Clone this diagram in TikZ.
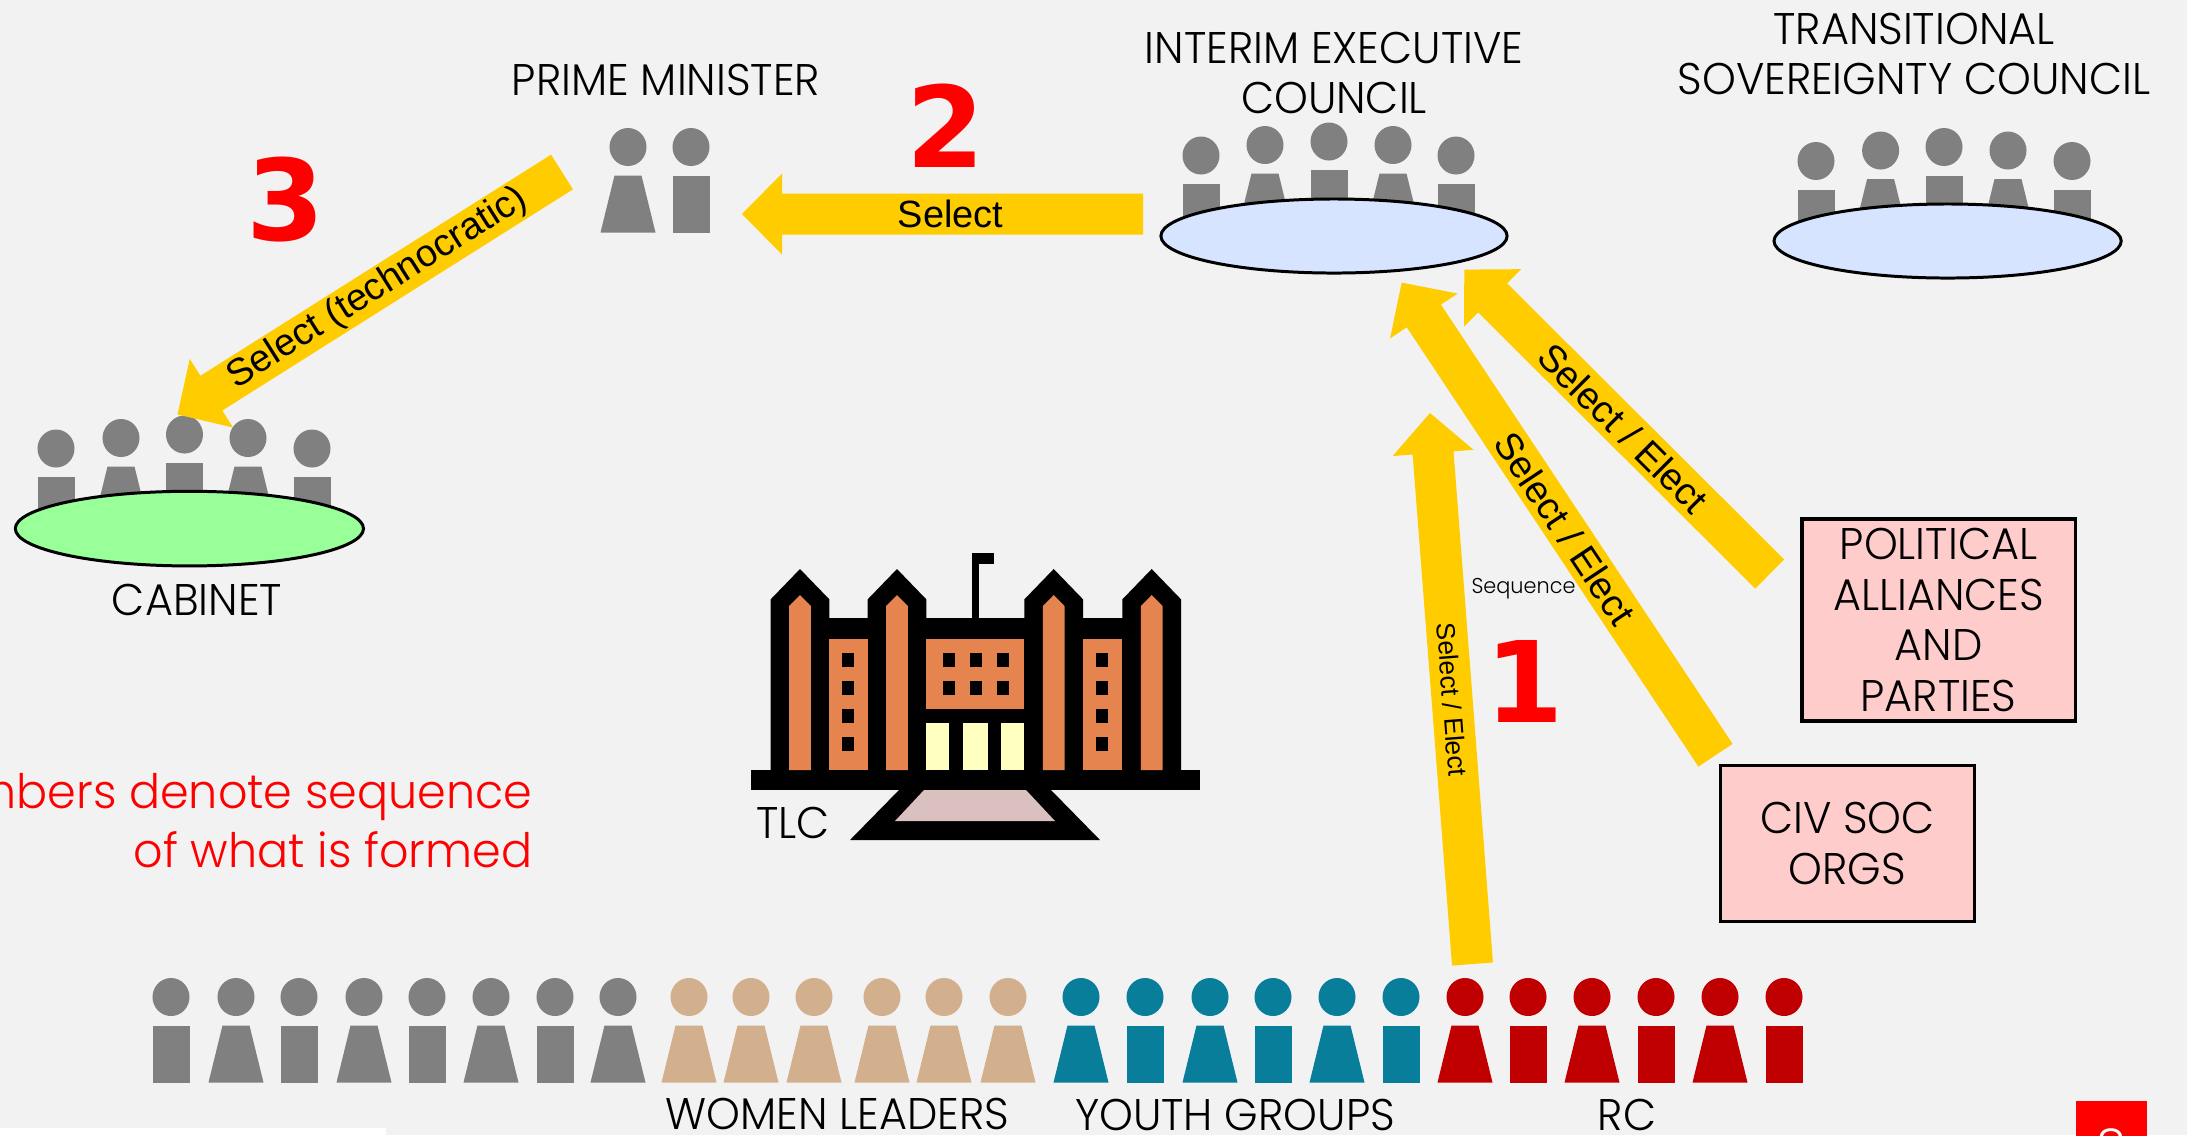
\documentclass[tikz,border=0pt]{standalone}
\usepackage{fontspec}
\usepackage{tikz}
\usetikzlibrary{calc,positioning,shapes.geometric}

\newfontfamily\gothic[FakeStretch=0.97]{Poppins Light}
\newfontfamily\arial{Liberation Sans}
\newfontfamily\digits{DejaVu Sans}

\definecolor{slidebg}{HTML}{F2F2F2}
\definecolor{figgray}{HTML}{808080}
\definecolor{figtan}{HTML}{D2B08E}
\definecolor{figteal}{HTML}{087E9B}
\definecolor{figred}{HTML}{C00000}
\definecolor{flowyellow}{HTML}{FFCC00}
\definecolor{cabgreen}{HTML}{99FF99}
\definecolor{councilblue}{HTML}{D6E4FF}
\definecolor{orgpink}{HTML}{FFCCCC}
\definecolor{brick}{HTML}{E6844F}
\definecolor{doorlight}{HTML}{FFFFC0}
\definecolor{steppink}{HTML}{DBC0C0}

\tikzset{
  lbl/.style={font=\gothic\fontsize{12.6}{14.4}\selectfont, align=center, inner sep=0pt},
  flowtext/.style={font=\arial\fontsize{10.8}{13}\selectfont, inner sep=0pt},
  stepnum/.style={font=\digits\bfseries\fontsize{32}{36}\selectfont, text=red, inner sep=0pt},
  seqnote/.style={font=\gothic\fontsize{13.5}{17}\selectfont, text=red, align=right, inner sep=0pt},
  orgbox/.style={lbl, draw, line width=0.9pt, fill=orgpink},
  roundtable/.style={ellipse, draw, line width=0.85pt, inner sep=0pt},
  flow/.style={fill=flowyellow},
}

% one member: head and straight body / flared body
\newcommand{\pawnrect}[3]{%
  \fill[#3] (#1,#2) ellipse [x radius=0.185cm, y radius=0.19cm];
  \fill[#3] (#1-18.5,#2+28.5) rectangle (#1+18.5,#2+85.5);}
\newcommand{\pawntrap}[3]{%
  \fill[#3] (#1,#2) ellipse [x radius=0.185cm, y radius=0.19cm];
  \fill[#3] (#1-13.5,#2+28.5) -- (#1+13.5,#2+28.5) -- (#1+27.5,#2+85.5)
    -- (#1-27.5,#2+85.5) -- cycle;}

% broad arrow from #2 (tail) to #3 (tip), text #4 along it
\newcommand{\blockarrow}[4][]{%
  \coordinate (ba-h) at ($(#3)!0.4cm!(#2)$);
  \fill[flow] ($(#2)!0.205cm!90:(#3)$) -- ($(ba-h)!0.205cm!90:(#3)$)
    -- ($(ba-h)!0.405cm!90:(#3)$) -- (#3) -- ($(ba-h)!0.405cm!-90:(#3)$)
    -- ($(ba-h)!0.205cm!-90:(#3)$) -- ($(#2)!0.205cm!-90:(#3)$) -- cycle;
  \path (#2) -- (#3) node[flowtext, pos=.48, sloped, #1] {#4};}

\begin{document}
\begin{tikzpicture}[x=0.01cm, y=-0.01cm]
    \useasboundingbox (0,0) rectangle (2187,1135);
    \fill[slidebg] (0,0) rectangle (2187,1135);

    % Councils ---------------------------------------------------------
    \node[lbl] (pm) at (666,80) {PRIME MINISTER};
    \pawntrap{628}{147}{figgray}
    \pawnrect{691}{147}{figgray}

    \node[lbl] (iec) at (1334,73) {INTERIM EXECUTIVE\\COUNCIL};
    \foreach \x/\y in {1201/155.5,1329/141.5,1456/155.5} {\pawnrect{\x}{\y}{figgray}}
    \foreach \x/\y in {1265/145,1393/145} {\pawntrap{\x}{\y}{figgray}}
    \node[roundtable, fill=councilblue, minimum width=3.46cm, minimum height=0.74cm]
        (iec-table) at (1334,236) {};

    \node[lbl] (tsc) at (1914,54) {TRANSITIONAL\\SOVEREIGNTY COUNCIL};
    \foreach \x/\y in {1816/161,1944/147,2072/161} {\pawnrect{\x}{\y}{figgray}}
    \foreach \x/\y in {1880.6/150.5,2008/150.5} {\pawntrap{\x}{\y}{figgray}}
    \node[roundtable, fill=councilblue, minimum width=3.47cm, minimum height=0.74cm]
        (tsc-table) at (1947.6,241) {};

    \foreach \x/\y in {56/448.5,184.5/434.5,312/448.5} {\pawnrect{\x}{\y}{figgray}}
    \foreach \x/\y in {121/438,248/438} {\pawntrap{\x}{\y}{figgray}}
    \node[roundtable, fill=cabgreen, minimum width=3.48cm, minimum height=0.746cm]
        (cab-table) at (189.4,528.6) {};
    \node[lbl] (cab) at (197,600) {CABINET};

    % Organisations ----------------------------------------------------
    \node[orgbox, minimum width=2.73cm, minimum height=2.02cm] (pap) at (1938.5,620)
        {POLITICAL\\ALLIANCES\\AND\\PARTIES};
    \node[orgbox, minimum width=2.536cm, minimum height=1.561cm] (cso) at (1847.5,843.7)
        {CIV SOC\\ORGS};

    % TLC building -----------------------------------------------------
    \fill (751,770) rectangle (1200,790);
    \fill (770.7,618.3) rectangle (1181,790);
    \fill (972.3,552.7) rectangle (979.3,618.3);
    \fill (972.3,552.7) rectangle (993.7,564.3);
    \foreach \c in {800,897,1053.7,1151.7} {
        \fill (\c-29.3,770) -- (\c-29.3,599.3) -- (\c,569) -- (\c+29.3,599.3)
            -- (\c+29.3,770) -- cycle;
        \fill[brick] (\c-10.8,770) -- (\c-10.8,606) -- (\c,595) -- (\c+10.8,606)
            -- (\c+10.8,770) -- cycle;
    }
    \fill[brick] (829.3,639) rectangle (867.7,770);
    \fill[brick] (1083,639) rectangle (1122.3,770);
    \fill[brick] (926.3,639) rectangle (1024.3,709);
    \foreach \y in {653.3,681,709,737} {
        \fill (842,\y) rectangle ++(12,13.5);
        \fill (1096,\y) rectangle ++(12,13.5);
    }
    \foreach \x in {943,970,997} {
        \fill (\x,653.3) rectangle ++(12,13.5);
        \fill (\x,681) rectangle ++(12,13.5);
    }
    \foreach \a/\b in {926.3/949,963/988,1001/1024.3} {\fill[doorlight] (\a,723) rectangle (\b,770);}
    \fill (899,790) -- (1051,790) -- (1100,840) -- (850,840) -- cycle;
    \fill[steppink] (924,790) -- (1026,790) -- (1055,821) -- (895,821) -- cycle;
    \node[lbl] (tlc) at (793,823) {TLC};

    % Groups -----------------------------------------------------------
    \foreach \x in {171,299,427,555} {\pawnrect{\x}{997}{figgray}}
    \foreach \x in {236,364,491,618} {\pawntrap{\x}{997}{figgray}}
    \foreach \x in {689,751,814,882,944,1008} {\pawntrap{\x}{997}{figtan}}
    \foreach \x in {1081,1210,1337} {\pawntrap{\x}{997}{figteal}}
    \foreach \x in {1145,1273,1401} {\pawnrect{\x}{997}{figteal}}
    \foreach \x in {1465,1592,1720} {\pawntrap{\x}{997}{figred}}
    \foreach \x in {1528,1656,1784} {\pawnrect{\x}{997}{figred}}
    \node[lbl] (women) at (837.5,1114) {WOMEN LEADERS};
    \node[lbl] (youth) at (1235,1115) {YOUTH GROUPS};
    \node[lbl] (rc) at (1627,1115) {RC};

    % Flows ------------------------------------------------------------
    \coordinate (iec-out) at (1143,214);
    \coordinate (pm-in) at (742,214);
    \coordinate (pm-out) at (562,172);
    \coordinate (cab-in) at (177.5,414.5);
    \coordinate (pap-out) at (1769.7,574);
    \coordinate (iec-in1) at (1464.3,269.6);
    \coordinate (cso-out) at (1715.5,755.2);
    \coordinate (iec-in2) at (1401.7,282.6);
    \coordinate (rc-out) at (1472.5,964);
    \coordinate (iec-in3) at (1430,413);
    \blockarrow[name=sel-pm]{iec-out}{pm-in}{Select}
    \blockarrow[name=sel-cab]{pm-out}{cab-in}{Select (technocratic)}
    \blockarrow[name=sel-pap]{pap-out}{iec-in1}{Select / Elect}
    \blockarrow[name=sel-cso]{cso-out}{iec-in2}{Select / Elect}
    \blockarrow[name=sel-rc, font=\arial\fontsize{7.5}{9}\selectfont]{rc-out}{iec-in3}{Select / Elect}

    \node[stepnum] (n1) at (1525,681) {1};
    \node[stepnum] (n2) at (946,126) {2};
    \node[stepnum] (n3) at (286,200) {3};
    \node[font=\gothic\fontsize{6.1}{8}\selectfont, inner sep=0pt] (seq) at (1523.5,589) {Sequence};
    \node[seqnote, anchor=south east] (note) at (533,869) {Numbers denote sequence\\of what is formed};

    % Slide edge -------------------------------------------------------
    \fill[white] (0,1128) rectangle (386,1135);
    \fill[red] (2076,1101) rectangle (2147,1140);
    \node[font=\gothic\fontsize{14}{16}\selectfont, text=white, anchor=north, inner sep=0pt]
        (page) at (2111,1128) {8};
\end{tikzpicture}
\end{document}
